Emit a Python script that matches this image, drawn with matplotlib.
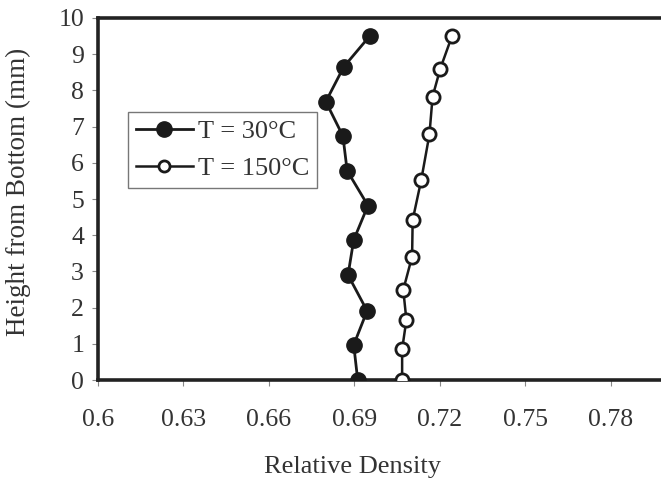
import matplotlib
matplotlib.use("Agg")
import matplotlib.pyplot as plt

# density profiles
height_30 = [0, 0.97, 1.91, 2.9, 3.87, 4.82, 5.78, 6.74, 7.69, 8.65, 9.5]
density_30 = [0.6912, 0.6898, 0.6945, 0.6878, 0.6898, 0.6948, 0.6875, 0.686, 0.680, 0.6863, 0.6954]

height_150 = [0, 0.85, 1.66, 2.49, 3.41, 4.42, 5.52, 6.79, 7.83, 8.6, 9.5]
density_150 = [0.7068, 0.7068, 0.7083, 0.7072, 0.7103, 0.7105, 0.7135, 0.7164, 0.7175, 0.7202, 0.7243]

x_ticks = [0.6, 0.63, 0.66, 0.69, 0.72, 0.75, 0.78]
x_tick_labels = ["0.6", "0.63", "0.66", "0.69", "0.72", "0.75", "0.78"]
y_ticks = list(range(0, 11))

plt.rcParams["font.family"] = ["Liberation Serif", "DejaVu Serif"]

W, H = 661, 486
fig = plt.figure(figsize=(W / 100, H / 100), dpi=100)
# axes run past the right edge, as in the cropped original
ax = fig.add_axes([98 / W, (H - 380) / H, 598 / W, 362 / H])

ax.plot(density_30, height_30, color="#1a1a1a", lw=2, marker="o",
        markersize=11, markerfacecolor="#1a1a1a", markeredgecolor="#1a1a1a",
        label="T = 30\u00b0C", zorder=3)
ax.plot(density_150, height_150, color="#1a1a1a", lw=1.8, marker="o",
        markersize=9.5, markerfacecolor="white", markeredgecolor="#1a1a1a",
        markeredgewidth=2, label="T = 150\u00b0C", zorder=3)

ax.set_xlim(0.6, 0.81)
ax.set_ylim(0, 10)
ax.set_xticks(x_ticks)
ax.set_xticklabels(x_tick_labels)
ax.set_yticks(y_ticks)
ax.tick_params(axis="both", labelsize=18.5, color="#888888", length=4,
               width=0.8, labelcolor="#333333")
ax.tick_params(axis="x", pad=17)
ax.tick_params(axis="y", pad=6)

for side in ["left", "bottom", "top"]:
    ax.spines[side].set_linewidth(2.6)
    ax.spines[side].set_color("#222222")
ax.spines["right"].set_visible(False)

ax.set_xlabel("Relative Density", fontsize=19, color="#333333")
ax.set_ylabel("Height from Bottom (mm)", fontsize=19.5, color="#333333")
ax.xaxis.set_label_coords(0.425, -0.21)
ax.yaxis.set_label_coords(-0.112, 0.52)

leg = ax.legend(loc="upper left", bbox_to_anchor=(30 / 598, 1 - 94 / 362),
                fontsize=19, frameon=True, fancybox=False, handlelength=2.15,
                handletextpad=0.2, borderpad=0.3, labelspacing=0.5,
                borderaxespad=0)
leg.get_frame().set_edgecolor("#555555")
leg.get_frame().set_linewidth(1)
leg.legend_handles[1].set_markersize(8)
for t in leg.get_texts():
    t.set_color("#333333")

fig.savefig("out.png", dpi=100)
